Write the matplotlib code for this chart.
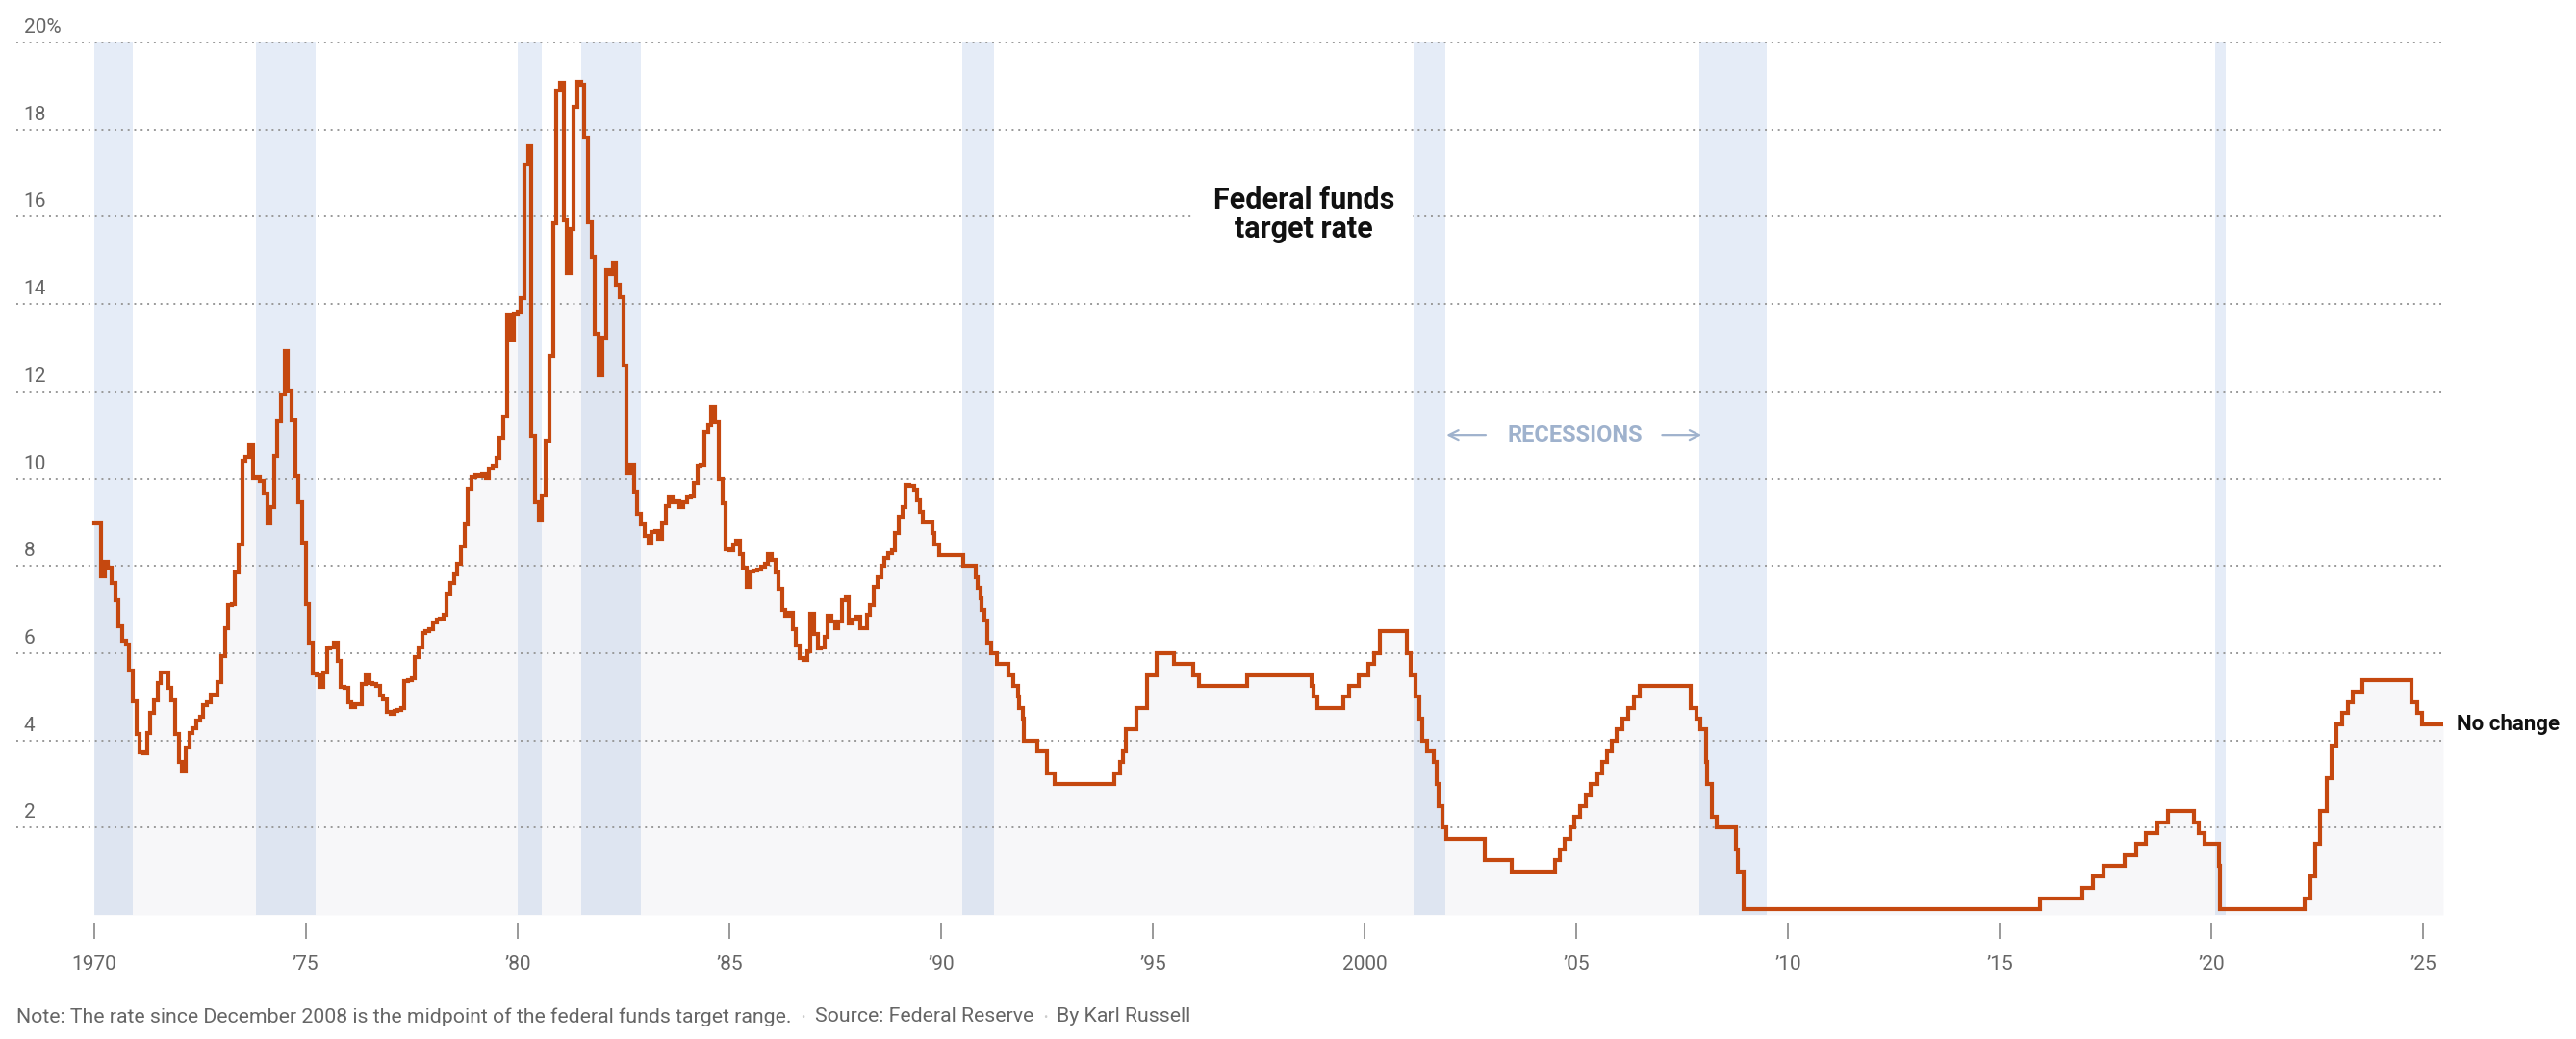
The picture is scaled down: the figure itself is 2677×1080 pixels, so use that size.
import matplotlib
matplotlib.use('Agg')
import matplotlib.pyplot as plt
import pandas as pd

plt.rcParams['font.family'] = ['Roboto', 'DejaVu Sans']

# monthly rate, Jan 1970 - Dec 1979
rates_1970s = [8.98, 8.98, 7.76, 8.10, 7.95, 7.61, 7.21, 6.61, 6.29, 6.20, 5.60, 4.90,
               4.14, 3.72, 3.71, 4.16, 4.63, 4.91, 5.31, 5.56, 5.55, 5.20, 4.91, 4.14,
               3.50, 3.29, 3.83, 4.17, 4.27, 4.46, 4.55, 4.80, 4.87, 5.04, 5.06, 5.33,
               5.94, 6.58, 7.09, 7.12, 7.84, 8.49, 10.40, 10.50, 10.78, 10.01, 10.03, 9.95,
               9.65, 8.97, 9.35, 10.51, 11.31, 11.93, 12.92, 12.01, 11.34, 10.06, 9.45, 8.53,
               7.13, 6.24, 5.54, 5.49, 5.22, 5.55, 6.10, 6.14, 6.24, 5.82, 5.22, 5.20,
               4.87, 4.77, 4.84, 4.82, 5.29, 5.48, 5.31, 5.29, 5.25, 5.02, 4.95, 4.65,
               4.61, 4.68, 4.69, 4.73, 5.35, 5.39, 5.42, 5.90, 6.14, 6.47, 6.51, 6.56,
               6.70, 6.78, 6.79, 6.89, 7.36, 7.60, 7.81, 8.04, 8.45, 8.96, 9.76, 10.03,
               10.07, 10.06, 10.09, 10.01, 10.24, 10.29, 10.47, 10.94, 11.43, 13.77, 13.18, 13.78]

# monthly rate, Jan 1980 - Apr 1989
rates_1980s = [13.82, 14.13, 17.19, 17.61, 10.98, 9.47, 9.03, 9.61, 10.87, 12.81, 15.85, 18.90,
               19.08, 15.93, 14.70, 15.72, 18.52, 19.10, 19.04, 17.82, 15.87, 15.08, 13.31, 12.37,
               13.22, 14.78, 14.68, 14.94, 14.45, 14.15, 12.59, 10.12, 10.31, 9.71, 9.20, 8.95,
               8.68, 8.51, 8.77, 8.80, 8.63, 8.98, 9.37, 9.56, 9.45, 9.48, 9.34, 9.47,
               9.56, 9.59, 9.91, 10.29, 10.32, 11.06, 11.23, 11.64, 11.30, 9.99, 9.43, 8.38,
               8.35, 8.50, 8.58, 8.27, 7.97, 7.53, 7.88, 7.90, 7.92, 7.99, 8.05, 8.27,
               8.14, 7.86, 7.48, 6.99, 6.85, 6.92, 6.56, 6.17, 5.89, 5.85, 6.04, 6.91,
               6.43, 6.10, 6.13, 6.37, 6.85, 6.73, 6.58, 6.73, 7.22, 7.29, 6.69, 6.77,
               6.83, 6.58, 6.58, 6.87, 7.09, 7.51, 7.75, 8.01, 8.19, 8.30, 8.35, 8.76,
               9.12, 9.36, 9.85, 9.84]

# target changes from mid-1989 on
target_dates = ['1989-05-17', '1989-06-06', '1989-07-07', '1989-07-27', '1989-10-18', '1989-11-06', '1989-12-20',
                '1990-07-13', '1990-10-29', '1990-11-14', '1990-12-07', '1990-12-18',
                '1991-01-09', '1991-02-01', '1991-03-08', '1991-04-30', '1991-08-06', '1991-09-13',
                '1991-10-31', '1991-11-06', '1991-12-06', '1991-12-20',
                '1992-04-09', '1992-07-02', '1992-09-04',
                '1994-02-04', '1994-03-22', '1994-04-18', '1994-05-17', '1994-08-16', '1994-11-15',
                '1995-02-01', '1995-07-06', '1995-12-19', '1996-01-31', '1997-03-25',
                '1998-09-29', '1998-10-15', '1998-11-17', '1999-06-30', '1999-08-24', '1999-11-16',
                '2000-02-02', '2000-03-21', '2000-05-16',
                '2001-01-03', '2001-01-31', '2001-03-20', '2001-04-18', '2001-05-15', '2001-06-27',
                '2001-08-21', '2001-09-17', '2001-10-02', '2001-11-06', '2001-12-11',
                '2002-11-06', '2003-06-25',
                '2004-06-30', '2004-08-10', '2004-09-21', '2004-11-10', '2004-12-14',
                '2005-02-02', '2005-03-22', '2005-05-03', '2005-06-30', '2005-08-09', '2005-09-20',
                '2005-11-01', '2005-12-13',
                '2006-01-31', '2006-03-28', '2006-05-10', '2006-06-29',
                '2007-09-18', '2007-10-31', '2007-12-11',
                '2008-01-22', '2008-01-30', '2008-03-18', '2008-04-30', '2008-10-08', '2008-10-29', '2008-12-16',
                '2015-12-16', '2016-12-14', '2017-03-15', '2017-06-14', '2017-12-13',
                '2018-03-21', '2018-06-13', '2018-09-26', '2018-12-19',
                '2019-07-31', '2019-09-18', '2019-10-30', '2020-03-03', '2020-03-15',
                '2022-03-16', '2022-05-04', '2022-06-15', '2022-07-27', '2022-09-21', '2022-11-02', '2022-12-14',
                '2023-02-01', '2023-03-22', '2023-05-03', '2023-07-26',
                '2024-09-18', '2024-11-07', '2024-12-18']
target_rates = [9.75, 9.5, 9.25, 9.0, 8.75, 8.5, 8.25,
                8.0, 7.75, 7.5, 7.25, 7.0,
                6.75, 6.25, 6.0, 5.75, 5.5, 5.25,
                5.0, 4.75, 4.5, 4.0,
                3.75, 3.25, 3.0,
                3.25, 3.5, 3.75, 4.25, 4.75, 5.5,
                6.0, 5.75, 5.5, 5.25, 5.5,
                5.25, 5.0, 4.75, 5.0, 5.25, 5.5,
                5.75, 6.0, 6.5,
                6.0, 5.5, 5.0, 4.5, 4.0, 3.75,
                3.5, 3.0, 2.5, 2.0, 1.75,
                1.25, 1.0,
                1.25, 1.5, 1.75, 2.0, 2.25,
                2.5, 2.75, 3.0, 3.25, 3.5, 3.75,
                4.0, 4.25,
                4.5, 4.75, 5.0, 5.25,
                4.75, 4.5, 4.25,
                3.5, 3.0, 2.25, 2.0, 1.5, 1.0, 0.125,
                0.375, 0.625, 0.875, 1.125, 1.375,
                1.625, 1.875, 2.125, 2.375,
                2.125, 1.875, 1.625, 1.125, 0.125,
                0.375, 0.875, 1.625, 2.375, 3.125, 3.875, 4.375,
                4.625, 4.875, 5.125, 5.375,
                4.875, 4.625, 4.375]
last_date = '2025-06-22'

recession_starts = ['1970-01-01', '1973-11-01', '1980-01-01', '1981-07-01',
                    '1990-07-01', '2001-03-01', '2007-12-01', '2020-02-01']
recession_ends = ['1970-11-30', '1975-03-31', '1980-07-31', '1982-11-30',
                  '1991-03-31', '2001-11-30', '2009-06-30', '2020-04-30']

y_ticks = [2, 4, 6, 8, 10, 12, 14, 16, 18, 20]
y_labels = ['2', '4', '6', '8', '10', '12', '14', '16', '18', '20%']
x_years = [1970, 1975, 1980, 1985, 1990, 1995, 2000, 2005, 2010, 2015, 2020, 2025]
x_labels = ['1970', '\u201975', '\u201980', '\u201985', '\u201990', '\u201995', '2000',
            '\u201905', '\u201910', '\u201915', '\u201920', '\u201925']

line_color = '#c5480f'
grey = '#666666'

monthly = rates_1970s + rates_1980s
monthly_dates = pd.date_range('1970-01-01', periods=len(monthly), freq='MS')
dates = list(monthly_dates) + list(pd.to_datetime(target_dates)) + [pd.Timestamp(last_date)]
rates = monthly + target_rates + [target_rates[-1]]

W, H = 2677, 1080
fig = plt.figure(figsize=(W / 100, H / 100), dpi=100)
ax = fig.add_axes([17 / W, 1 - 951 / H, (2539 - 17) / W, (951 - 44) / H])

ax.set_xlim(pd.Timestamp('1968-03-02'), pd.Timestamp(last_date))
ax.set_ylim(0, 20)

for s, e in zip(recession_starts, recession_ends):
    ax.axvspan(pd.Timestamp(s), pd.Timestamp(e), ymin=0, ymax=1, color='#e5ecf7', lw=0, zorder=0)

ax.fill_between(dates, 0, rates, step='post', color='#1a1a40', alpha=0.033, lw=0, zorder=1)

for v in y_ticks:
    ax.axhline(v, color='#999999', lw=1.4, linestyle=(0, (1, 2.5)), zorder=2)

for v, lab in zip(y_ticks, y_labels):
    ax.text(0.003, v + 0.22, lab, transform=ax.get_yaxis_transform(), ha='left', va='baseline',
            fontsize=15, color=grey, clip_on=False)

ax.step(dates, rates, where='post', color=line_color, lw=3, zorder=4, solid_joinstyle='miter')

for side in ['top', 'right', 'left', 'bottom']:
    ax.spines[side].set_visible(False)
ax.spines['bottom'].set_position(('outward', 6))
ax.set_yticks([])
ax.set_xticks(pd.to_datetime([f'{y}-01-01' for y in x_years]))
ax.set_xticklabels(x_labels)
ax.tick_params(axis='x', length=12, width=1.2, color='#888888', labelsize=15, labelcolor=grey, pad=12)

# labels
ax.text(pd.Timestamp('1998-07-25'), 16.05, 'Federal funds\ntarget rate', ha='center', va='center',
        fontsize=22, fontweight='bold', color='#111111', linespacing=1.0, zorder=5,
        bbox=dict(facecolor='white', edgecolor='none', pad=14))

rec_color = '#9fb2cd'
ax.text(pd.Timestamp('2004-12-25'), 11.0, 'RECESSIONS', ha='center', va='center',
        fontsize=17, fontweight='bold', color=rec_color, zorder=5)
ax.annotate('', xy=(pd.Timestamp('2001-11-15'), 11.0), xytext=(pd.Timestamp('2002-12-05'), 11.0),
            arrowprops=dict(arrowstyle='->', color=rec_color, lw=1.6, mutation_scale=18), zorder=5)
ax.annotate('', xy=(pd.Timestamp('2008-01-10'), 11.0), xytext=(pd.Timestamp('2006-12-20'), 11.0),
            arrowprops=dict(arrowstyle='->', color=rec_color, lw=1.6, mutation_scale=18), zorder=5)

ax.text(1.0055, target_rates[-1], 'No change', transform=ax.get_yaxis_transform(), ha='left', va='center',
        fontsize=16, fontweight='bold', color='#111111', clip_on=False)

# footnote with light separator dots
parts = ['Note: The rate since December 2008 is the midpoint of the federal funds target range.',
         'Source: Federal Reserve', 'By Karl Russell']
fig.canvas.draw()
renderer = fig.canvas.get_renderer()
x = 17 / W
y = 1 - 1057 / H
for i, p in enumerate(parts):
    t = fig.text(x, y, p, fontsize=15.3, color=grey, va='center', ha='left')
    ext = t.get_window_extent(renderer)
    x = ext.x1 / W
    if i < len(parts) - 1:
        d = fig.text(x + 10 / W, y, '\u2022', fontsize=9, color='#cccccc', va='center', ha='left')
        x = d.get_window_extent(renderer).x1 / W + 10 / W

fig.savefig('out.png', dpi=100)
